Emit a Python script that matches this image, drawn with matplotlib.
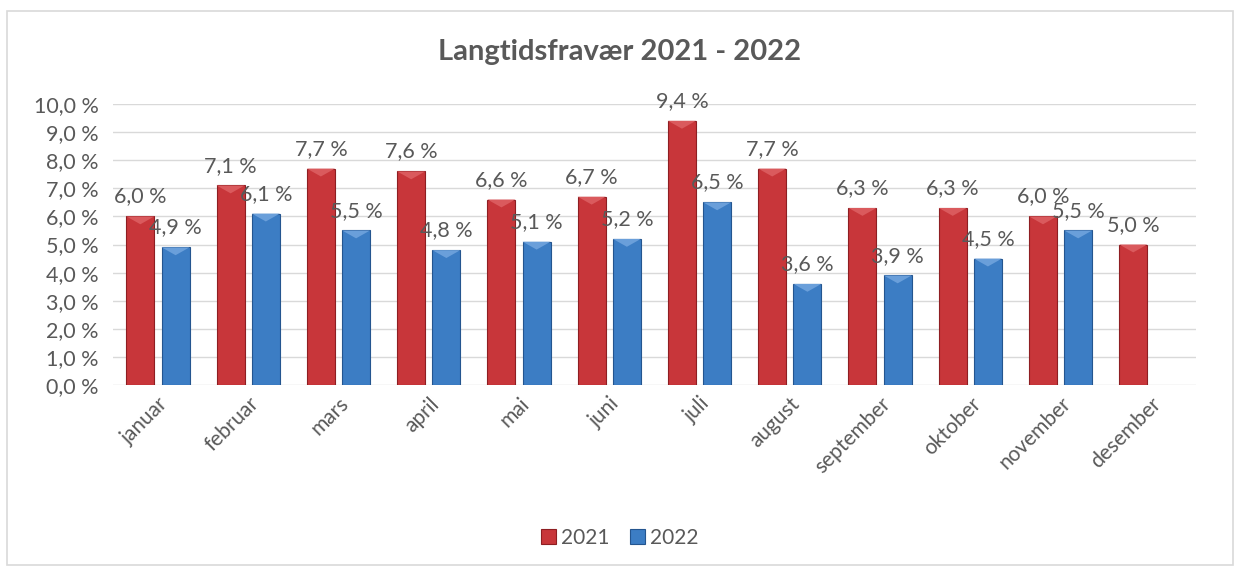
import numpy as np
import matplotlib
matplotlib.use("Agg")
import matplotlib.pyplot as plt
from matplotlib.patches import Rectangle

plt.rcParams['font.family'] = ['Lato', 'DejaVu Sans']

# data
months = ["januar", "februar", "mars", "april", "mai", "juni", "juli",
          "august", "september", "oktober", "november", "desember"]
v2021 = [6.0, 7.1, 7.7, 7.6, 6.6, 6.7, 9.4, 7.7, 6.3, 6.3, 6.0, 5.0]
v2022 = [4.9, 6.1, 5.5, 4.8, 5.1, 5.2, 6.5, 3.6, 3.9, 4.5, 5.5, None]

red = "#C8363A"
blue = "#3C7DC4"
txt = "#595959"

fig = plt.figure(figsize=(12.4, 5.68), dpi=100)
fig.patches.append(Rectangle((0.006, 0.005), 0.988, 0.975, transform=fig.transFigure,
                             fill=False, edgecolor="#D9D9D9", lw=1.2))
ax = fig.add_axes([0.091, 0.322, 0.8735, 0.495])

x = np.arange(len(months))
w = 0.31
off = 0.195
b1 = ax.bar(x - off, v2021, w, color=red, edgecolor="#8E1E22", lw=0.8, label="2021", zorder=3)
x2 = [i for i, v in enumerate(v2022) if v is not None]
y2 = [v for v in v2022 if v is not None]
b2 = ax.bar(np.array(x2) + off, y2, w, color=blue, edgecolor="#24558F", lw=0.8, label="2022", zorder=3)

# lys avfasing paa toppen av hver soyle
for bars, hl in ((b1, "#DA5A5D"), (b2, "#6A9FDA")):
    for r in bars:
        x0, h, bw = r.get_x(), r.get_height(), r.get_width()
        ax.fill([x0, x0 + bw, x0 + bw / 2], [h, h, h - 0.28], color=hl, zorder=4, lw=0)

def fmt(v):
    return f"{v:.1f} %".replace(".", ",")

for xi, v in zip(x - off, v2021):
    ax.text(xi, v + 0.35, fmt(v), ha="center", va="bottom", fontsize=15.5, color=txt, zorder=5)
for xi, v in zip(np.array(x2) + off, y2):
    ax.text(xi, v + 0.35, fmt(v), ha="center", va="bottom", fontsize=15.5, color=txt, zorder=5)

ax.set_xlim(-0.5, len(months) - 0.5)
ax.set_ylim(0, 10)
ax.set_yticks(np.arange(0, 11, 1))
ax.set_yticklabels([fmt(t) for t in range(11)], fontsize=15.5, color=txt)
ax.grid(axis="y", color="#D9D9D9", lw=1, zorder=0)
ax.set_xticks(x)
ax.set_xticklabels(months, rotation=45, ha="right", rotation_mode="anchor", fontsize=15, color=txt)
ax.tick_params(axis="y", length=0, pad=10)
ax.tick_params(axis="x", length=0, pad=6)
for s in ax.spines.values():
    s.set_visible(False)

fig.text(0.5, 0.908, "Langtidsfravær 2021 - 2022", ha="center", va="center",
         fontsize=21, fontweight="bold", color=txt)
fig.legend(handles=[b1, b2], labels=["2021", "2022"], loc="center", bbox_to_anchor=(0.5, 0.053),
           ncol=2, frameon=False, fontsize=15, labelcolor=txt, handlelength=0.7,
           handleheight=0.7, columnspacing=1.0, handletextpad=0.25)

fig.savefig("out.png", dpi=100)
